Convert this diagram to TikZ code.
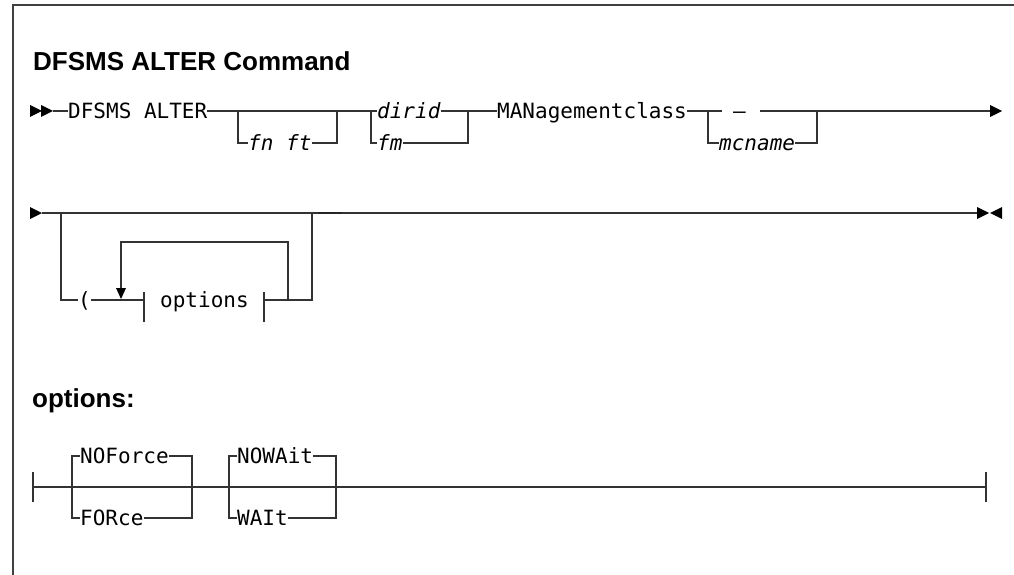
\documentclass[tikz,border=0pt]{standalone}
\usepackage{fontspec}
\newfontfamily\headfont{Liberation Sans}
\newfontfamily\synfont{DejaVu Sans Mono}
\usetikzlibrary{arrows}

% small filled tips of the rail lines
\newcommand{\tipright}[2]{\fill[black] (#1,#2-6) -- (#1+12,#2) -- (#1,#2+6) -- cycle;}
\newcommand{\tipleft}[2]{\fill[black] (#1+12,#2-6) -- (#1,#2) -- (#1+12,#2+6) -- cycle;}
\newcommand{\tipdown}[2]{\fill[black] (#1-5,#2-11) -- (#1+5,#2-11) -- (#1,#2) -- cycle;}

\tikzset{
  rail/.style={draw=black!80,line width=1.2pt},
  frame/.style={draw=black!75,line width=2pt},
  head/.style={inner sep=0pt,anchor=base west,font=\headfont\bfseries\fontsize{26}{26}\selectfont},
  kw/.style={inner sep=0pt,anchor=west,text height=15pt,text depth=0pt,font=\synfont\fontsize{21}{21}\selectfont},
  var/.style={kw,font=\synfont\itshape\fontsize{21}{21}\selectfont}
}

\begin{document}
\begin{tikzpicture}[line cap=butt,line join=miter,x=1pt,y=-1pt]
\useasboundingbox (0,0) rectangle (1014,575);
\draw[frame] (1014,5) -- (13,5) -- (13,575);
\node[head] (title) at (33,71) {DFSMS ALTER Command};
%
% first line
\begin{scope}[shift={(0,111)}]
\tipright{30}{0}
\tipright{41}{0}
\node[kw] (dfsms) at (68,0) {DFSMS ALTER};
\node[var] (fnft) at (248,32) {fn ft};
\node[var] (dirid) at (377,0) {dirid};
\node[var] (fm) at (377,32) {fm};
\node[kw] (mgmt) at (497,0) {MANagementclass};
\node[kw] (dash) at (733,0) {–};
\node[var] (mcname) at (719,32) {mcname};
\coordinate (end1) at (990,0);
\draw[rail] (53,0) -- (dfsms.west);
\draw[rail] (dfsms.east) -- (dirid.west);
\draw[rail] (238,0) -- (238,32) -- (fnft.west);
\draw[rail] (fnft.east) -- (337,32) -- (337,0);
\draw[rail] (371,0) -- (371,32) -- (fm.west);
\draw[rail] (dirid.east) -- (468,0) -- (468,32) -- (fm.east);
\draw[rail] (468,0) -- (mgmt.west);
\draw[rail] (mgmt.east) -- (708,0) -- (708,32) -- (mcname.west);
\draw[rail] (708,0) -- (722,0);
\draw[rail] (mcname.east) -- (817,32) -- (817,0) -- (end1);
\draw[rail] (760,0) -- (817,0);
\tipright{990}{0}
\end{scope}
%
% second line
\begin{scope}[shift={(0,213)}]
\tipright{30}{0}
\node[kw] (paren) at (78,87) {(};
\node[kw] (opt) at (160,87) {options};
\coordinate (end2) at (977,0);
\draw[rail] (42,0) -- (end2);
\draw[line width=2.6pt,black!85] (318,0) -- (342,0);
\draw[rail] (61,0) -- (61,87) -- (paren.west);
\draw[rail] (paren.east) -- (144,87);
\draw[rail] (144,79) -- (144,109);
\draw[rail] (264,79) -- (264,109);
\draw[rail] (264,87) -- (312,87) -- (312,0);
\draw[rail] (288,87) -- (288,29) -- (121,29) -- (121,75);
\tipdown{121}{86}
\tipright{977}{0}
\tipleft{990}{0}
\end{scope}
%
% options fragment
\node[head] (opthead) at (32,407) {options:};
\begin{scope}[shift={(0,487)}]
\node[kw] (noforce) at (80,-31) {NOForce};
\node[kw] (force) at (80,31) {FORce};
\node[kw] (nowait) at (237,-31) {NOWAit};
\node[kw] (wait) at (237,31) {WAIt};
\draw[rail] (33,-15) -- (33,15);
\draw[rail] (986,-15) -- (986,15);
\draw[rail] (33,0) -- (986,0);
\draw[rail] (noforce.west) -- (72,-31) -- (72,31) -- (force.west);
\draw[rail] (noforce.east) -- (192,-31) -- (192,31) -- (force.east);
\draw[rail] (nowait.west) -- (229,-31) -- (229,31) -- (wait.west);
\draw[rail] (nowait.east) -- (336,-31) -- (336,31) -- (wait.east);
\end{scope}
\end{tikzpicture}
\end{document}
